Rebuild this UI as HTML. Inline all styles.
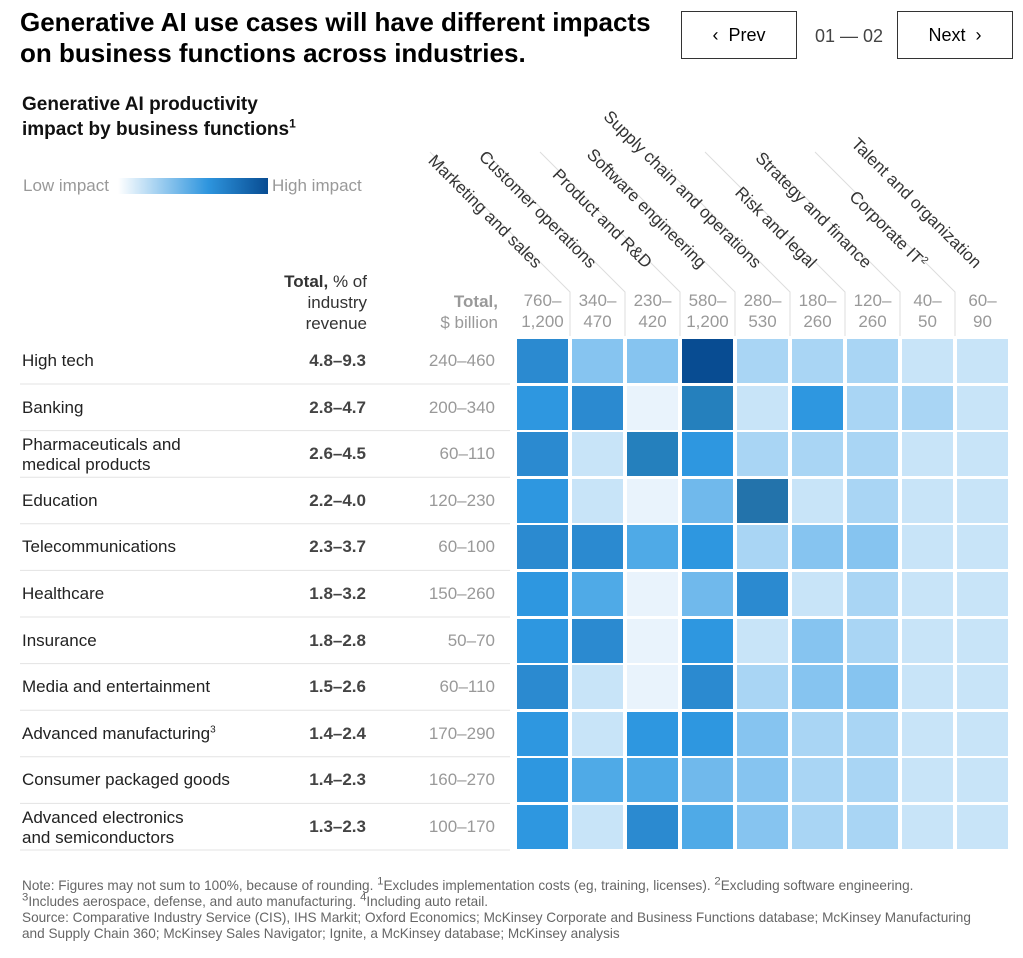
<!DOCTYPE html>
<html><head><meta charset="utf-8">
<style>
body{margin:0;width:1023px;height:958px;background:#fff;font-family:"Liberation Sans",sans-serif;color:#222;position:relative;overflow:hidden}
sup{line-height:0}
.a{position:absolute;white-space:nowrap}
.title{left:20px;top:7px;font-size:26px;font-weight:bold;line-height:31px;color:#000}
.btn{position:absolute;top:11px;height:48px;border:1px solid #333;box-sizing:border-box;font-size:18px;display:flex;align-items:center;justify-content:center;color:#000}
.sub{left:22px;top:92px;font-size:19px;font-weight:bold;line-height:25px;color:#111}
.lg{font-size:17px;color:#999;top:176px}
.row{font-size:17px;color:#222;line-height:20px}
.tot{font-size:17px;font-weight:bold;color:#444;text-align:right;width:80px}
.bil{font-size:17px;color:#999;text-align:right;width:90px}
.hd{font-size:17px;color:#999;text-align:center;line-height:21px;width:55px}
.lab{font-size:17px;color:#333;transform-origin:100% 100%;transform:rotate(45deg);text-align:right;line-height:18px}
.cell{position:absolute;width:51px;height:44px}
.note{left:22px;top:878px;font-size:13.6px;color:#666;line-height:16px}
</style></head><body>
<div class="a title">Generative AI use cases will have different impacts<br>on business functions across industries.</div>
<div class="btn" style="left:681px;width:116px">&#8249;&nbsp; Prev</div>
<div class="a" style="left:815px;top:26px;font-size:18px;color:#444">01 — 02</div>
<div class="btn" style="left:897px;width:116px">Next &nbsp;&#8250;</div>
<div class="a sub">Generative AI productivity<br>impact by business functions<sup style="font-size:12px">1</sup></div>
<div class="a lg" style="left:23px">Low impact</div>
<div class="a" style="left:118px;top:178px;width:150px;height:16px;background:linear-gradient(90deg,#fff,#2e95de 60%,#084c92)"></div>
<div class="a lg" style="left:272px">High impact</div>
<div class="a" style="left:240px;top:271px;width:127px;text-align:right;font-size:17px;line-height:21px;color:#333"><b>Total,</b> % of<br>industry<br>revenue</div>
<div class="a" style="left:400px;top:291px;width:98px;text-align:right;font-size:17px;line-height:21px;color:#999"><b>Total,</b><br>$ billion</div>
<svg class="a" style="left:0;top:0" width="1023" height="958" id="sv"></svg>
<div id="g"></div>
<div class="a note">Note: Figures may not sum to 100%, because of rounding. <sup>1</sup>Excludes implementation costs (eg, training, licenses). <sup>2</sup>Excluding software engineering.<br><sup>3</sup>Includes aerospace, defense, and auto manufacturing. <sup>4</sup>Including auto retail.<br>Source: Comparative Industry Service (CIS), IHS Markit; Oxford Economics; McKinsey Corporate and Business Functions database; McKinsey Manufacturing<br>and Supply Chain 360; McKinsey Sales Navigator; Ignite, a McKinsey database; McKinsey analysis</div>
<script>
var C={A:'#2b8ad0',B:'#2e97e0',D:'#084c92',E:'#2580bd',F:'#2373ab',a:'#e9f3fc',b:'#c8e4f8',c:'#a9d5f4',d:'#86c4f0',e:'#70b9ec',f:'#4faae7'};
var rows=[["High tech","4.8–9.3","240–460","AddDcccbb"],
["Banking","2.8–4.7","200–340","BAaEbBccb"],
["Pharmaceuticals and<br>medical products","2.6–4.5","60–110","AbEBcccbb"],
["Education","2.2–4.0","120–230","BbaeFbcbb"],
["Telecommunications","2.3–3.7","60–100","AAfBcddbb"],
["Healthcare","1.8–3.2","150–260","BfaeAbcbb"],
["Insurance","1.8–2.8","50–70","BAaBbdcbb"],
["Media and entertainment","1.5–2.6","60–110","AbaAcddbb"],
["Advanced manufacturing<sup style='font-size:10px'>3</sup>","1.4–2.4","170–290","BbBBdccbb"],
["Consumer packaged goods","1.4–2.3","160–270","Bffedccbb"],
["Advanced electronics<br>and semiconductors","1.3–2.3","100–170","BbAfdccbb"]];
var cols=["Marketing and sales","Customer operations","Product and R&amp;D","Software engineering","Supply chain and operations","Risk and legal","Strategy and finance","Corporate IT<sup style='font-size:10px'>2</sup>","Talent and organization"];
var tots=["760–<br>1,200","340–<br>470","230–<br>420","580–<br>1,200","280–<br>530","180–<br>260","120–<br>260","40–<br>50","60–<br>90"];
var h='',s='';
for(var j=0;j<9;j++){var x=517+j*55;
h+='<div class="a hd" style="left:'+(x-2)+'px;top:290px">'+tots[j]+'</div>';
h+='<div class="a lab" style="right:'+(1023-(x+15))+'px;top:254px">'+cols[j]+'</div>';
if(j>0){s+='<polyline points="'+(x-2)+',336 '+(x-2)+',292 '+(x-142)+',152" fill="none" stroke="#ddd" stroke-width="1"/>';}}
for(var i=0;i<11;i++){var y=339+i*46.6;var r=rows[i];var two=r[0].indexOf('<br>')>=0;
h+='<div class="a row" style="left:22px;top:'+(y+(two?3:12))+'px">'+r[0]+'</div>';
h+='<div class="a tot" style="left:286px;top:'+(y+12)+'px">'+r[1]+'</div>';
h+='<div class="a bil" style="left:405px;top:'+(y+12)+'px">'+r[2]+'</div>';
s+='<line x1="20" x2="510" y1="'+(y+45)+'" y2="'+(y+45)+'" stroke="#e3e3e3"/>';
for(var j=0;j<9;j++){var k=r[3][j];h+='<div class="cell" style="left:'+(517+j*55)+'px;top:'+y+'px;background:'+C[k]+'"></div>';}}
document.getElementById('g').innerHTML=h;document.getElementById('sv').innerHTML=s;
</script>
</body></html>
